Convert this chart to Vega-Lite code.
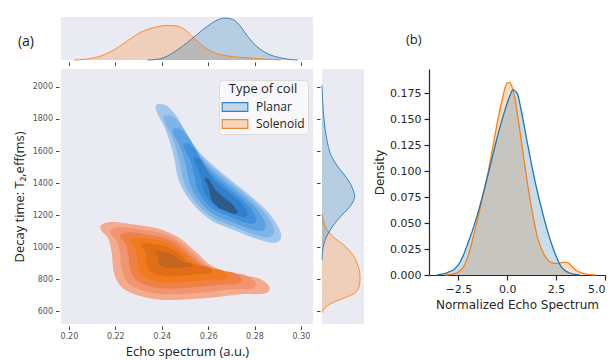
{
  "$schema": "https://vega.github.io/schema/vega-lite/v6.json",
  "background": "white",
  "padding": {"left": 13, "top": 15, "right": 4, "bottom": 0},
  "config": {
    "view": {"stroke": null},
    "axis": {"grid": false},
    "title": {"fontWeight": "normal"}
  },
  "datasets": {
    "contours": [
      {"g":"B1","i":1,"x":0.2375,"y":1886},{"g":"B1","i":2,"x":0.2418,"y":1886},{"g":"B1","i":3,"x":0.2461,"y":1823},{"g":"B1","i":4,"x":0.2504,"y":1719},{"g":"B1","i":5,"x":0.2562,"y":1594},{"g":"B1","i":6,"x":0.2655,"y":1469},{"g":"B1","i":7,"x":0.2770,"y":1334},{"g":"B1","i":8,"x":0.2864,"y":1209},{"g":"B1","i":9,"x":0.2914,"y":1085},{"g":"B1","i":10,"x":0.2892,"y":1028},{"g":"B1","i":11,"x":0.2813,"y":1049},{"g":"B1","i":12,"x":0.2713,"y":1105},{"g":"B1","i":13,"x":0.2612,"y":1168},{"g":"B1","i":14,"x":0.2533,"y":1272},{"g":"B1","i":15,"x":0.2476,"y":1407},{"g":"B1","i":16,"x":0.2451,"y":1573},{"g":"B1","i":17,"x":0.2418,"y":1730},{"g":"B1","i":18,"x":0.2385,"y":1823},
      {"g":"B2","i":1,"x":0.2409,"y":1817},{"g":"B2","i":2,"x":0.2447,"y":1817},{"g":"B2","i":3,"x":0.2485,"y":1761},{"g":"B2","i":4,"x":0.2523,"y":1670},{"g":"B2","i":5,"x":0.2574,"y":1560},{"g":"B2","i":6,"x":0.2656,"y":1450},{"g":"B2","i":7,"x":0.2757,"y":1331},{"g":"B2","i":8,"x":0.2840,"y":1221},{"g":"B2","i":9,"x":0.2884,"y":1112},{"g":"B2","i":10,"x":0.2864,"y":1062},{"g":"B2","i":11,"x":0.2795,"y":1080},{"g":"B2","i":12,"x":0.2707,"y":1130},{"g":"B2","i":13,"x":0.2618,"y":1185},{"g":"B2","i":14,"x":0.2548,"y":1277},{"g":"B2","i":15,"x":0.2498,"y":1395},{"g":"B2","i":16,"x":0.2476,"y":1541},{"g":"B2","i":17,"x":0.2447,"y":1680},{"g":"B2","i":18,"x":0.2418,"y":1761},
      {"g":"B3","i":1,"x":0.2449,"y":1736},{"g":"B3","i":2,"x":0.2481,"y":1736},{"g":"B3","i":3,"x":0.2513,"y":1690},{"g":"B3","i":4,"x":0.2545,"y":1613},{"g":"B3","i":5,"x":0.2587,"y":1520},{"g":"B3","i":6,"x":0.2656,"y":1428},{"g":"B3","i":7,"x":0.2741,"y":1328},{"g":"B3","i":8,"x":0.2811,"y":1235},{"g":"B3","i":9,"x":0.2848,"y":1143},{"g":"B3","i":10,"x":0.2832,"y":1101},{"g":"B3","i":11,"x":0.2773,"y":1117},{"g":"B3","i":12,"x":0.2699,"y":1158},{"g":"B3","i":13,"x":0.2624,"y":1205},{"g":"B3","i":14,"x":0.2566,"y":1282},{"g":"B3","i":15,"x":0.2524,"y":1382},{"g":"B3","i":16,"x":0.2505,"y":1505},{"g":"B3","i":17,"x":0.2481,"y":1621},{"g":"B3","i":18,"x":0.2456,"y":1690},
      {"g":"B4","i":1,"x":0.2495,"y":1644},{"g":"B4","i":2,"x":0.2520,"y":1644},{"g":"B4","i":3,"x":0.2545,"y":1608},{"g":"B4","i":4,"x":0.2570,"y":1547},{"g":"B4","i":5,"x":0.2603,"y":1475},{"g":"B4","i":6,"x":0.2657,"y":1402},{"g":"B4","i":7,"x":0.2724,"y":1324},{"g":"B4","i":8,"x":0.2778,"y":1251},{"g":"B4","i":9,"x":0.2807,"y":1179},{"g":"B4","i":10,"x":0.2795,"y":1146},{"g":"B4","i":11,"x":0.2749,"y":1159},{"g":"B4","i":12,"x":0.2691,"y":1191},{"g":"B4","i":13,"x":0.2632,"y":1228},{"g":"B4","i":14,"x":0.2586,"y":1288},{"g":"B4","i":15,"x":0.2553,"y":1366},{"g":"B4","i":16,"x":0.2539,"y":1463},{"g":"B4","i":17,"x":0.2520,"y":1554},{"g":"B4","i":18,"x":0.2500,"y":1608},
      {"g":"B5","i":1,"x":0.2537,"y":1558},{"g":"B5","i":2,"x":0.2556,"y":1558},{"g":"B5","i":3,"x":0.2574,"y":1531},{"g":"B5","i":4,"x":0.2593,"y":1486},{"g":"B5","i":5,"x":0.2618,"y":1432},{"g":"B5","i":6,"x":0.2658,"y":1378},{"g":"B5","i":7,"x":0.2707,"y":1320},{"g":"B5","i":8,"x":0.2748,"y":1267},{"g":"B5","i":9,"x":0.2769,"y":1213},{"g":"B5","i":10,"x":0.2760,"y":1189},{"g":"B5","i":11,"x":0.2726,"y":1198},{"g":"B5","i":12,"x":0.2683,"y":1222},{"g":"B5","i":13,"x":0.2639,"y":1249},{"g":"B5","i":14,"x":0.2605,"y":1294},{"g":"B5","i":15,"x":0.2581,"y":1352},{"g":"B5","i":16,"x":0.2570,"y":1423},{"g":"B5","i":17,"x":0.2556,"y":1491},{"g":"B5","i":18,"x":0.2542,"y":1531},
      {"g":"B6","i":1,"x":0.2586,"y":1430},{"g":"B6","i":2,"x":0.2597,"y":1430},{"g":"B6","i":3,"x":0.2608,"y":1413},{"g":"B6","i":4,"x":0.2619,"y":1386},{"g":"B6","i":5,"x":0.2635,"y":1354},{"g":"B6","i":6,"x":0.2659,"y":1321},{"g":"B6","i":7,"x":0.2689,"y":1286},{"g":"B6","i":8,"x":0.2713,"y":1254},{"g":"B6","i":9,"x":0.2726,"y":1221},{"g":"B6","i":10,"x":0.2720,"y":1207},{"g":"B6","i":11,"x":0.2700,"y":1212},{"g":"B6","i":12,"x":0.2674,"y":1227},{"g":"B6","i":13,"x":0.2648,"y":1243},{"g":"B6","i":14,"x":0.2627,"y":1270},{"g":"B6","i":15,"x":0.2612,"y":1305},{"g":"B6","i":16,"x":0.2606,"y":1348},{"g":"B6","i":17,"x":0.2597,"y":1389},{"g":"B6","i":18,"x":0.2588,"y":1413},
      {"g":"S1","i":1,"x":0.2138,"y":1137},{"g":"S1","i":2,"x":0.2188,"y":1157},{"g":"S1","i":3,"x":0.2282,"y":1141},{"g":"S1","i":4,"x":0.2382,"y":1116},{"g":"S1","i":5,"x":0.2468,"y":1064},{"g":"S1","i":6,"x":0.2547,"y":970},{"g":"S1","i":7,"x":0.2612,"y":887},{"g":"S1","i":8,"x":0.2713,"y":831},{"g":"S1","i":9,"x":0.2813,"y":808},{"g":"S1","i":10,"x":0.2864,"y":752},{"g":"S1","i":11,"x":0.2842,"y":710},{"g":"S1","i":12,"x":0.2741,"y":706},{"g":"S1","i":13,"x":0.2641,"y":689},{"g":"S1","i":14,"x":0.2526,"y":675},{"g":"S1","i":15,"x":0.2411,"y":670},{"g":"S1","i":16,"x":0.2310,"y":693},{"g":"S1","i":17,"x":0.2231,"y":745},{"g":"S1","i":18,"x":0.2195,"y":835},{"g":"S1","i":19,"x":0.2185,"y":960},{"g":"S1","i":20,"x":0.2170,"y":1053},{"g":"S1","i":21,"x":0.2142,"y":1099},
      {"g":"S2","i":1,"x":0.2180,"y":1107},{"g":"S2","i":2,"x":0.2223,"y":1125},{"g":"S2","i":3,"x":0.2304,"y":1111},{"g":"S2","i":4,"x":0.2390,"y":1089},{"g":"S2","i":5,"x":0.2464,"y":1045},{"g":"S2","i":6,"x":0.2532,"y":964},{"g":"S2","i":7,"x":0.2588,"y":892},{"g":"S2","i":8,"x":0.2675,"y":844},{"g":"S2","i":9,"x":0.2761,"y":824},{"g":"S2","i":10,"x":0.2805,"y":776},{"g":"S2","i":11,"x":0.2786,"y":740},{"g":"S2","i":12,"x":0.2699,"y":737},{"g":"S2","i":13,"x":0.2613,"y":722},{"g":"S2","i":14,"x":0.2514,"y":710},{"g":"S2","i":15,"x":0.2415,"y":706},{"g":"S2","i":16,"x":0.2328,"y":725},{"g":"S2","i":17,"x":0.2260,"y":770},{"g":"S2","i":18,"x":0.2229,"y":848},{"g":"S2","i":19,"x":0.2221,"y":955},{"g":"S2","i":20,"x":0.2208,"y":1035},{"g":"S2","i":21,"x":0.2184,"y":1075},
      {"g":"S3","i":1,"x":0.2223,"y":1078},{"g":"S3","i":2,"x":0.2259,"y":1092},{"g":"S3","i":3,"x":0.2326,"y":1081},{"g":"S3","i":4,"x":0.2398,"y":1063},{"g":"S3","i":5,"x":0.2460,"y":1025},{"g":"S3","i":6,"x":0.2517,"y":957},{"g":"S3","i":7,"x":0.2564,"y":898},{"g":"S3","i":8,"x":0.2637,"y":857},{"g":"S3","i":9,"x":0.2709,"y":841},{"g":"S3","i":10,"x":0.2745,"y":800},{"g":"S3","i":11,"x":0.2729,"y":770},{"g":"S3","i":12,"x":0.2657,"y":767},{"g":"S3","i":13,"x":0.2585,"y":755},{"g":"S3","i":14,"x":0.2502,"y":745},{"g":"S3","i":15,"x":0.2419,"y":741},{"g":"S3","i":16,"x":0.2346,"y":758},{"g":"S3","i":17,"x":0.2290,"y":795},{"g":"S3","i":18,"x":0.2264,"y":860},{"g":"S3","i":19,"x":0.2256,"y":950},{"g":"S3","i":20,"x":0.2246,"y":1017},{"g":"S3","i":21,"x":0.2225,"y":1050},
      {"g":"S4","i":1,"x":0.2265,"y":1048},{"g":"S4","i":2,"x":0.2294,"y":1060},{"g":"S4","i":3,"x":0.2348,"y":1050},{"g":"S4","i":4,"x":0.2406,"y":1036},{"g":"S4","i":5,"x":0.2456,"y":1006},{"g":"S4","i":6,"x":0.2502,"y":951},{"g":"S4","i":7,"x":0.2540,"y":903},{"g":"S4","i":8,"x":0.2598,"y":870},{"g":"S4","i":9,"x":0.2656,"y":857},{"g":"S4","i":10,"x":0.2686,"y":825},{"g":"S4","i":11,"x":0.2673,"y":800},{"g":"S4","i":12,"x":0.2615,"y":798},{"g":"S4","i":13,"x":0.2557,"y":788},{"g":"S4","i":14,"x":0.2490,"y":780},{"g":"S4","i":15,"x":0.2423,"y":777},{"g":"S4","i":16,"x":0.2365,"y":790},{"g":"S4","i":17,"x":0.2319,"y":821},{"g":"S4","i":18,"x":0.2298,"y":873},{"g":"S4","i":19,"x":0.2292,"y":945},{"g":"S4","i":20,"x":0.2283,"y":999},{"g":"S4","i":21,"x":0.2267,"y":1026},
      {"g":"S5","i":1,"x":0.2313,"y":1014},{"g":"S5","i":2,"x":0.2334,"y":1022},{"g":"S5","i":3,"x":0.2374,"y":1016},{"g":"S5","i":4,"x":0.2416,"y":1005},{"g":"S5","i":5,"x":0.2452,"y":983},{"g":"S5","i":6,"x":0.2485,"y":944},{"g":"S5","i":7,"x":0.2512,"y":909},{"g":"S5","i":8,"x":0.2555,"y":886},{"g":"S5","i":9,"x":0.2597,"y":876},{"g":"S5","i":10,"x":0.2618,"y":852},{"g":"S5","i":11,"x":0.2609,"y":835},{"g":"S5","i":12,"x":0.2566,"y":833},{"g":"S5","i":13,"x":0.2524,"y":826},{"g":"S5","i":14,"x":0.2476,"y":820},{"g":"S5","i":15,"x":0.2428,"y":818},{"g":"S5","i":16,"x":0.2385,"y":828},{"g":"S5","i":17,"x":0.2352,"y":849},{"g":"S5","i":18,"x":0.2337,"y":887},{"g":"S5","i":19,"x":0.2333,"y":940},{"g":"S5","i":20,"x":0.2327,"y":979},{"g":"S5","i":21,"x":0.2315,"y":998},
      {"g":"S6","i":1,"x":0.2374,"y":972},{"g":"S6","i":2,"x":0.2385,"y":976},{"g":"S6","i":3,"x":0.2405,"y":973},{"g":"S6","i":4,"x":0.2427,"y":967},{"g":"S6","i":5,"x":0.2446,"y":956},{"g":"S6","i":6,"x":0.2464,"y":935},{"g":"S6","i":7,"x":0.2478,"y":917},{"g":"S6","i":8,"x":0.2500,"y":904},{"g":"S6","i":9,"x":0.2522,"y":899},{"g":"S6","i":10,"x":0.2533,"y":887},{"g":"S6","i":11,"x":0.2528,"y":878},{"g":"S6","i":12,"x":0.2506,"y":877},{"g":"S6","i":13,"x":0.2484,"y":873},{"g":"S6","i":14,"x":0.2459,"y":870},{"g":"S6","i":15,"x":0.2434,"y":869},{"g":"S6","i":16,"x":0.2411,"y":874},{"g":"S6","i":17,"x":0.2394,"y":885},{"g":"S6","i":18,"x":0.2386,"y":905},{"g":"S6","i":19,"x":0.2384,"y":933},{"g":"S6","i":20,"x":0.2381,"y":953},{"g":"S6","i":21,"x":0.2374,"y":963}
    ],
    "topm": [
      {"coil":"Solenoid","x":0.2023,"d":0},{"coil":"Solenoid","x":0.2080,"d":0.8},{"coil":"Solenoid","x":0.2138,"d":3.3},{"coil":"Solenoid","x":0.2195,"d":8.3},{"coil":"Solenoid","x":0.2253,"d":15.7},{"coil":"Solenoid","x":0.2310,"d":22.6},{"coil":"Solenoid","x":0.2368,"d":26.5},{"coil":"Solenoid","x":0.2425,"d":28.1},{"coil":"Solenoid","x":0.2468,"d":27.6},{"coil":"Solenoid","x":0.2504,"d":24.0},{"coil":"Solenoid","x":0.2540,"d":17.6},{"coil":"Solenoid","x":0.2583,"d":10.7},{"coil":"Solenoid","x":0.2626,"d":6.1},{"coil":"Solenoid","x":0.2684,"d":3.3},{"coil":"Solenoid","x":0.2741,"d":2.2},{"coil":"Solenoid","x":0.2799,"d":1.4},{"coil":"Solenoid","x":0.2856,"d":0.55},{"coil":"Solenoid","x":0.2914,"d":0},
      {"coil":"Planar","x":0.2339,"d":0},{"coil":"Planar","x":0.2382,"d":0.55},{"coil":"Planar","x":0.2425,"d":3.3},{"coil":"Planar","x":0.2468,"d":8.3},{"coil":"Planar","x":0.2511,"d":14.3},{"coil":"Planar","x":0.2555,"d":21.2},{"coil":"Planar","x":0.2598,"d":27.6},{"coil":"Planar","x":0.2634,"d":32.0},{"coil":"Planar","x":0.2670,"d":34.2},{"coil":"Planar","x":0.2705,"d":33.1},{"coil":"Planar","x":0.2734,"d":28.7},{"coil":"Planar","x":0.2763,"d":21.2},{"coil":"Planar","x":0.2792,"d":14.3},{"coil":"Planar","x":0.2828,"d":8.3},{"coil":"Planar","x":0.2871,"d":3.9},{"coil":"Planar","x":0.2914,"d":1.7},{"coil":"Planar","x":0.2957,"d":0.3},{"coil":"Planar","x":0.2986,"d":0}
    ],
    "rightm": [
      {"coil":"Solenoid","y":1210,"d":0},{"coil":"Solenoid","y":1150,"d":2},{"coil":"Solenoid","y":1100,"d":6},{"coil":"Solenoid","y":1050,"d":14},{"coil":"Solenoid","y":1000,"d":24},{"coil":"Solenoid","y":950,"d":31},{"coil":"Solenoid","y":900,"d":35},{"coil":"Solenoid","y":850,"d":37.5},{"coil":"Solenoid","y":800,"d":38},{"coil":"Solenoid","y":750,"d":37},{"coil":"Solenoid","y":715,"d":33},{"coil":"Solenoid","y":690,"d":25},{"coil":"Solenoid","y":665,"d":15},{"coil":"Solenoid","y":645,"d":8},{"coil":"Solenoid","y":625,"d":3.5},{"coil":"Solenoid","y":605,"d":1},{"coil":"Solenoid","y":590,"d":0},
      {"coil":"Planar","y":2011,"d":0},{"coil":"Planar","y":1900,"d":0.8},{"coil":"Planar","y":1800,"d":2},{"coil":"Planar","y":1700,"d":4},{"coil":"Planar","y":1600,"d":7.5},{"coil":"Planar","y":1550,"d":11},{"coil":"Planar","y":1500,"d":16},{"coil":"Planar","y":1450,"d":22.5},{"coil":"Planar","y":1400,"d":28},{"coil":"Planar","y":1350,"d":31.5},{"coil":"Planar","y":1320,"d":32.6},{"coil":"Planar","y":1290,"d":31.5},{"coil":"Planar","y":1250,"d":27.5},{"coil":"Planar","y":1200,"d":20},{"coil":"Planar","y":1150,"d":13},{"coil":"Planar","y":1100,"d":7.5},{"coil":"Planar","y":1050,"d":3.5},{"coil":"Planar","y":1000,"d":1.2},{"coil":"Planar","y":950,"d":0.3},{"coil":"Planar","y":920,"d":0}
    ],
    "bdens": [
      {"coil":"Solenoid","x":-3.2,"d":0},{"coil":"Solenoid","x":-2.86,"d":0.0006},{"coil":"Solenoid","x":-2.52,"d":0.0026},{"coil":"Solenoid","x":-2.26,"d":0.0071},{"coil":"Solenoid","x":-2.01,"d":0.0177},{"coil":"Solenoid","x":-1.67,"d":0.0418},{"coil":"Solenoid","x":-1.33,"d":0.0691},{"coil":"Solenoid","x":-0.99,"d":0.098},{"coil":"Solenoid","x":-0.73,"d":0.1237},{"coil":"Solenoid","x":-0.48,"d":0.1494},{"coil":"Solenoid","x":-0.22,"d":0.1719},{"coil":"Solenoid","x":-0.02,"d":0.1847},{"coil":"Solenoid","x":0.12,"d":0.1857},{"coil":"Solenoid","x":0.24,"d":0.1815},{"coil":"Solenoid","x":0.41,"d":0.1686},{"coil":"Solenoid","x":0.58,"d":0.1478},{"coil":"Solenoid","x":0.80,"d":0.1189},{"coil":"Solenoid","x":1.05,"d":0.0867},{"coil":"Solenoid","x":1.31,"d":0.0578},{"coil":"Solenoid","x":1.56,"d":0.0353},{"coil":"Solenoid","x":1.90,"d":0.0193},{"coil":"Solenoid","x":2.24,"d":0.0122},{"coil":"Solenoid","x":2.59,"d":0.0109},{"coil":"Solenoid","x":2.84,"d":0.0122},{"coil":"Solenoid","x":3.06,"d":0.0122},{"coil":"Solenoid","x":3.27,"d":0.009},{"coil":"Solenoid","x":3.52,"d":0.0045},{"coil":"Solenoid","x":3.86,"d":0.0016},{"coil":"Solenoid","x":4.29,"d":0.0003},{"coil":"Solenoid","x":4.5,"d":0},
      {"coil":"Planar","x":-3.6,"d":0},{"coil":"Planar","x":-3.28,"d":0.001},{"coil":"Planar","x":-3.03,"d":0.0026},{"coil":"Planar","x":-2.69,"d":0.0058},{"coil":"Planar","x":-2.35,"d":0.0145},{"coil":"Planar","x":-2.01,"d":0.0305},{"coil":"Planar","x":-1.58,"d":0.0546},{"coil":"Planar","x":-1.16,"d":0.0835},{"coil":"Planar","x":-0.82,"d":0.1092},{"coil":"Planar","x":-0.48,"d":0.1349},{"coil":"Planar","x":-0.14,"d":0.1574},{"coil":"Planar","x":0.12,"d":0.1719},{"coil":"Planar","x":0.29,"d":0.1783},{"coil":"Planar","x":0.51,"d":0.1751},{"coil":"Planar","x":0.71,"d":0.159},{"coil":"Planar","x":1.05,"d":0.1253},{"coil":"Planar","x":1.39,"d":0.0932},{"coil":"Planar","x":1.73,"d":0.0659},{"coil":"Planar","x":2.07,"d":0.0418},{"coil":"Planar","x":2.41,"d":0.0225},{"coil":"Planar","x":2.76,"d":0.008},{"coil":"Planar","x":3.10,"d":0.0026},{"coil":"Planar","x":3.44,"d":0.0006},{"coil":"Planar","x":3.7,"d":0}
    ]
  },
  "columns": 4,
  "spacing": 9,
  "bounds": "flush",
  "concat": [
    {
      "width": 252,
      "height": 43,
      "view": {"fill": "#EAEAF2", "stroke": null},
      "title": {"text": "(a)", "orient": "left", "angle": 0, "align": "right", "baseline": "middle", "anchor": "middle", "offset": 11, "dy": 3, "font": "Open Sans", "fontSize": 14, "fontWeight": "normal", "color": "#222"},
      "data": {"name": "topm"},
      "mark": {"type": "area", "interpolate": "monotone", "fillOpacity": 0.25, "line": {"strokeWidth": 1, "strokeOpacity": 0.85}},
      "encoding": {
        "x": {"field": "x", "type": "quantitative", "scale": {"domain": [0.1966, 0.3052], "nice": false, "zero": false},
              "axis": {"values": [0.2, 0.22, 0.24, 0.26, 0.28, 0.3], "labels": false, "domain": false, "title": null, "offset": 2, "tickSize": 3.5, "tickColor": "#444"}},
        "y": {"field": "d", "type": "quantitative", "stack": null, "scale": {"domain": [0, 35], "nice": false}, "axis": null},
        "color": {"field": "coil", "type": "nominal", "scale": {"domain": ["Planar", "Solenoid"], "range": ["#1f77b4", "#ff7f0e"]}, "legend": null}
      }
    },
    {
      "width": 42, "height": 43,
      "data": {"values": [{"t": ""}]},
      "mark": {"type": "text"},
      "encoding": {"text": {"field": "t", "type": "nominal"}}
    },
    {
      "width": 47, "height": 43,
      "data": {"values": [{"t": ""}]},
      "mark": {"type": "text"},
      "encoding": {"text": {"field": "t", "type": "nominal"}}
    },
    {
      "width": 176, "height": 43,
      "data": {"values": [{"t": ""}]},
      "mark": {"type": "text"},
      "encoding": {"text": {"field": "t", "type": "nominal"}}
    },
    {
      "width": 252,
      "height": 255,
      "view": {"fill": "#EAEAF2", "stroke": null},
      "layer": [
        {
          "data": {"name": "contours"},
          "mark": {"type": "line", "interpolate": "cardinal-closed", "strokeWidth": 0},
          "encoding": {
            "x": {"field": "x", "type": "quantitative", "scale": {"domain": [0.1966, 0.3052], "nice": false, "zero": false},
                  "axis": {"values": [0.2, 0.22, 0.24, 0.26, 0.28, 0.3], "format": ".2f", "title": "Echo spectrum (a.u.)", "domain": false, "offset": 2, "tickSize": 3.5, "tickColor": "#444", "labelFont": "DejaVu Sans", "labelFontSize": 8, "labelColor": "#555", "labelPadding": 3, "titleFont": "Open Sans", "titleFontSize": 13, "titleFontWeight": "normal", "titleColor": "#222", "titlePadding": 5}},
            "y": {"field": "y", "type": "quantitative", "scale": {"domain": [520, 2112], "nice": false, "zero": false},
                  "axis": {"values": [600, 800, 1000, 1200, 1400, 1600, 1800, 2000], "format": "d", "title": "Decay time: T₂,eff(ms)", "domain": false, "offset": 2, "tickSize": 3.5, "tickColor": "#444", "labelFont": "DejaVu Sans", "labelFontSize": 8, "labelColor": "#555", "labelPadding": 3, "titleFont": "Open Sans", "titleFontSize": 13, "titleFontWeight": "normal", "titleColor": "#222", "titlePadding": 6}},
            "detail": {"field": "g", "type": "nominal"},
            "order": {"field": "i", "type": "quantitative"},
            "fill": {"field": "g", "type": "nominal", "legend": null,
                     "scale": {"domain": ["B1","B2","B3","B4","B5","B6","S1","S2","S3","S4","S5","S6"],
                               "range": ["#a2c7ec","#7fb4e7","#5ca1e2","#4190db","#3280cc","#2e5c89","#f3aa8e","#f19470","#ef8046","#f07a1e","#e06e16","#c4661f"]}}
          }
        },
        {
          "data": {"values": [{"coil": "Planar"}, {"coil": "Solenoid"}]},
          "mark": {"type": "point", "size": 0, "opacity": 1, "filled": true},
          "encoding": {
            "fill": {"field": "coil", "type": "nominal", "title": "Type of coil",
                     "scale": {"domain": ["Planar", "Solenoid"], "range": ["#c2d7ed", "#f9d6ba"]},
                     "legend": {"orient": "none", "legendX": 158, "legendY": 11, "fillColor": "#f8f8fa", "strokeColor": "#dcdcdc", "cornerRadius": 3, "padding": 3,
                                "symbolType": "M-1.6,-0.55H1.6V0.55H-1.6Z", "symbolSize": 256, "symbolOffset": 4, "symbolStrokeWidth": 1.2,
                                "symbolStrokeColor": {"expr": "isValid(datum) && datum.value === 'Planar' ? '#3a7fc0' : '#e8893a'"},
                                "titleFont": "Open Sans", "titleFontSize": 13, "titleFontWeight": "normal", "titleColor": "#222", "titleAnchor": "middle",
                                "labelFont": "Open Sans", "labelFontSize": 12, "labelColor": "#222", "rowPadding": 1, "titlePadding": 2, "labelOffset": 12}}
          }
        }
      ],
      "resolve": {"scale": {"fill": "independent"}}
    },
    {
      "width": 42,
      "height": 255,
      "view": {"fill": "#EAEAF2", "stroke": null},
      "data": {"name": "rightm"},
      "mark": {"type": "line", "interpolate": "cardinal", "fillOpacity": 0.25, "strokeWidth": 1, "strokeOpacity": 0.85},
      "encoding": {
        "y": {"field": "y", "type": "quantitative", "scale": {"domain": [520, 2112], "nice": false, "zero": false},
              "axis": {"values": [600, 800, 1000, 1200, 1400, 1600, 1800, 2000], "labels": false, "domain": false, "title": null, "offset": 2, "tickSize": 3.5, "tickColor": "#444"}},
        "x": {"field": "d", "type": "quantitative", "scale": {"domain": [0, 42], "nice": false}, "axis": null},
        "order": {"field": "y", "type": "quantitative"},
        "color": {"field": "coil", "type": "nominal", "scale": {"domain": ["Planar", "Solenoid"], "range": ["#1f77b4", "#ff7f0e"]}, "legend": null},
        "fill": {"field": "coil", "type": "nominal", "scale": {"domain": ["Planar", "Solenoid"], "range": ["#1f77b4", "#ff7f0e"]}, "legend": null}
      }
    },
    {
      "width": 47, "height": 255,
      "data": {"values": [{"t": ""}]},
      "mark": {"type": "text"},
      "encoding": {"text": {"field": "t", "type": "nominal"}}
    },
    {
      "width": 176,
      "height": 206,
      "title": {"text": "(b)", "anchor": "start", "dx": -23, "offset": 22, "font": "Open Sans", "fontSize": 13, "fontWeight": "normal", "color": "#222", "frame": "group"},
      "data": {"name": "bdens"},
      "mark": {"type": "area", "interpolate": "monotone", "fillOpacity": 0.25, "line": {"strokeWidth": 1.3}},
      "encoding": {
        "x": {"field": "x", "type": "quantitative", "scale": {"domain": [-4, 5], "nice": false, "zero": false},
              "axis": {"values": [-2.5, 0, 2.5, 5], "labelExpr": "replace(format(datum.value, '.1f'), '-', '−')", "title": "Normalized Echo Spectrum", "domainColor": "#262626", "domainWidth": 1.2, "tickColor": "#262626", "tickSize": 5, "tickWidth": 1.2, "labelFont": "DejaVu Sans", "labelFontSize": 11, "labelColor": "#262626", "labelPadding": 3, "titleFont": "DejaVu Sans", "titleFontSize": 12, "titleFontWeight": "normal", "titleColor": "#262626", "titlePadding": 5}},
        "y": {"field": "d", "type": "quantitative", "stack": null, "scale": {"domain": [0, 0.1985], "nice": false},
              "axis": {"values": [0, 0.025, 0.05, 0.075, 0.1, 0.125, 0.15, 0.175], "format": ".3f", "title": "Density", "domainColor": "#262626", "domainWidth": 1.2, "tickColor": "#262626", "tickSize": 5, "tickWidth": 1.2, "labelFont": "DejaVu Sans", "labelFontSize": 11, "labelColor": "#262626", "labelPadding": 3, "titleFont": "DejaVu Sans", "titleFontSize": 12, "titleFontWeight": "normal", "titleColor": "#262626", "titlePadding": 3}},
        "color": {"field": "coil", "type": "nominal", "scale": {"domain": ["Planar", "Solenoid"], "range": ["#1f77b4", "#ff7f0e"]}, "legend": null}
      }
    }
  ]
}
